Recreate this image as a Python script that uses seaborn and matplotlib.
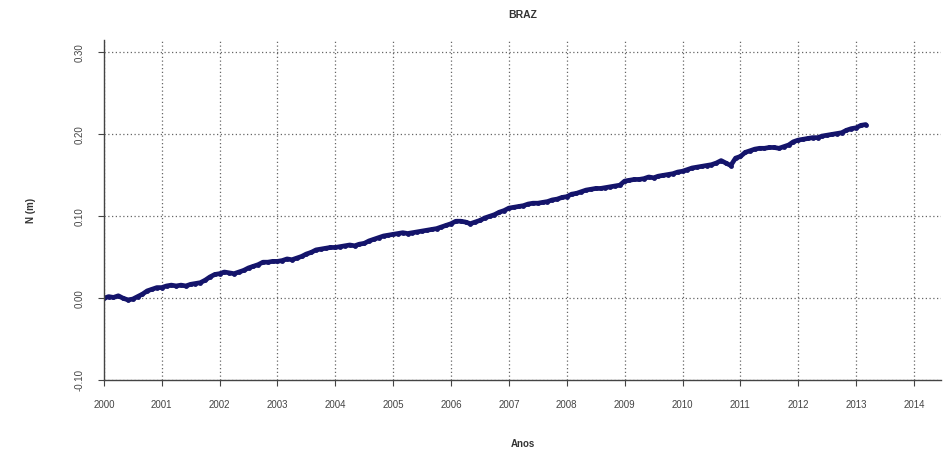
import numpy as np
import pandas as pd
import matplotlib
matplotlib.use("Agg")
import matplotlib.pyplot as plt
import seaborn as sns

# Monthly north-component displacement of station BRAZ, in millimetres
north_2000 = [0, 2, 1, 3, 0, -2, -1, 2, 5, 9, 11, 13]
north_2001 = [13, 15, 16, 15, 16, 15, 17, 18, 19, 22, 26, 29]
north_2002 = [30, 32, 31, 30, 32, 34, 37, 39, 41, 44, 44, 45]
north_2003 = [45, 46, 48, 47, 49, 51, 54, 56, 59, 60, 61, 62]
north_2004 = [62, 63, 64, 65, 64, 66, 67, 70, 72, 74, 76, 77]
north_2005 = [78, 79, 80, 79, 80, 81, 82, 83, 84, 85, 87, 89]
north_2006 = [91, 94, 94, 93, 91, 93, 95, 98, 100, 102, 105, 107]
north_2007 = [110, 111, 112, 113, 115, 116, 116, 117, 118, 120, 121, 123]
north_2008 = [124, 127, 128, 130, 132, 133, 134, 134, 135, 136, 137, 138]
north_2009 = [143, 144, 145, 145, 146, 148, 147, 149, 150, 151, 152, 154]
north_2010 = [155, 157, 159, 160, 161, 162, 163, 165, 168, 165, 162, 171]
north_2011 = [173, 178, 180, 182, 183, 183, 184, 184, 183, 185, 187, 191]
north_2012 = [193, 194, 195, 196, 196, 198, 199, 200, 201, 202, 205, 207]
north_2013 = [208, 211, 212]

year_blocks = [north_2000, north_2001, north_2002, north_2003, north_2004,
               north_2005, north_2006, north_2007, north_2008, north_2009,
               north_2010, north_2011, north_2012, north_2013]

epochs, north_m = [], []
for i, block in enumerate(year_blocks):
    for m, v in enumerate(block):
        epochs.append(2000 + i + m / 12.0)
        north_m.append(v / 1000.0)

df = pd.DataFrame({"Anos": epochs, "N (m)": north_m})

x_ticks = list(range(2000, 2015))
y_ticks = [-0.10, 0.00, 0.10, 0.20, 0.30]
y_tick_labels = ["-0.10", "0.00", "0.10", "0.20", "0.30"]

sns.set_theme(style="white")
plt.rcParams["font.family"] = ["Liberation Sans", "DejaVu Sans"]

fig = plt.figure(figsize=(9.44, 4.51), dpi=100)
ax = fig.add_axes([0.110, 0.157, 0.887, 0.754])

sns.lineplot(data=df, x="Anos", y="N (m)", ax=ax, color="#14146b",
             linewidth=3.4, marker="o", markersize=3.5, markeredgewidth=0,
             errorbar=None)

ax.set_xlim(2000, 2014.47)
ax.set_ylim(-0.10, 0.315)
ax.set_xticks(x_ticks)
ax.set_xticklabels([str(t) for t in x_ticks], fontsize=7, color="#444444")
ax.set_yticks(y_ticks)
ax.set_yticklabels(y_tick_labels, fontsize=7, color="#444444",
                   rotation=90, va="center")

ax.grid(True, which="major", color="#666666", linestyle=(0, (1, 2)),
        linewidth=0.9)
ax.tick_params(axis="both", length=4, width=0.8, color="#444444",
               direction="out", pad=10, bottom=True, left=True)

for side in ["top", "right"]:
    ax.spines[side].set_visible(False)
for side in ["left", "bottom"]:
    ax.spines[side].set_color("#444444")
    ax.spines[side].set_linewidth(1.0)

ax.set_xlabel("Anos", fontsize=7, fontweight="bold", color="#333333",
              labelpad=21)
ax.set_ylabel("N (m)", fontsize=7, fontweight="bold", color="#333333",
              labelpad=28)
ax.set_title("BRAZ", fontsize=7.5, fontweight="bold", color="#333333",
             pad=16)

fig.savefig("out.png", dpi=100)
